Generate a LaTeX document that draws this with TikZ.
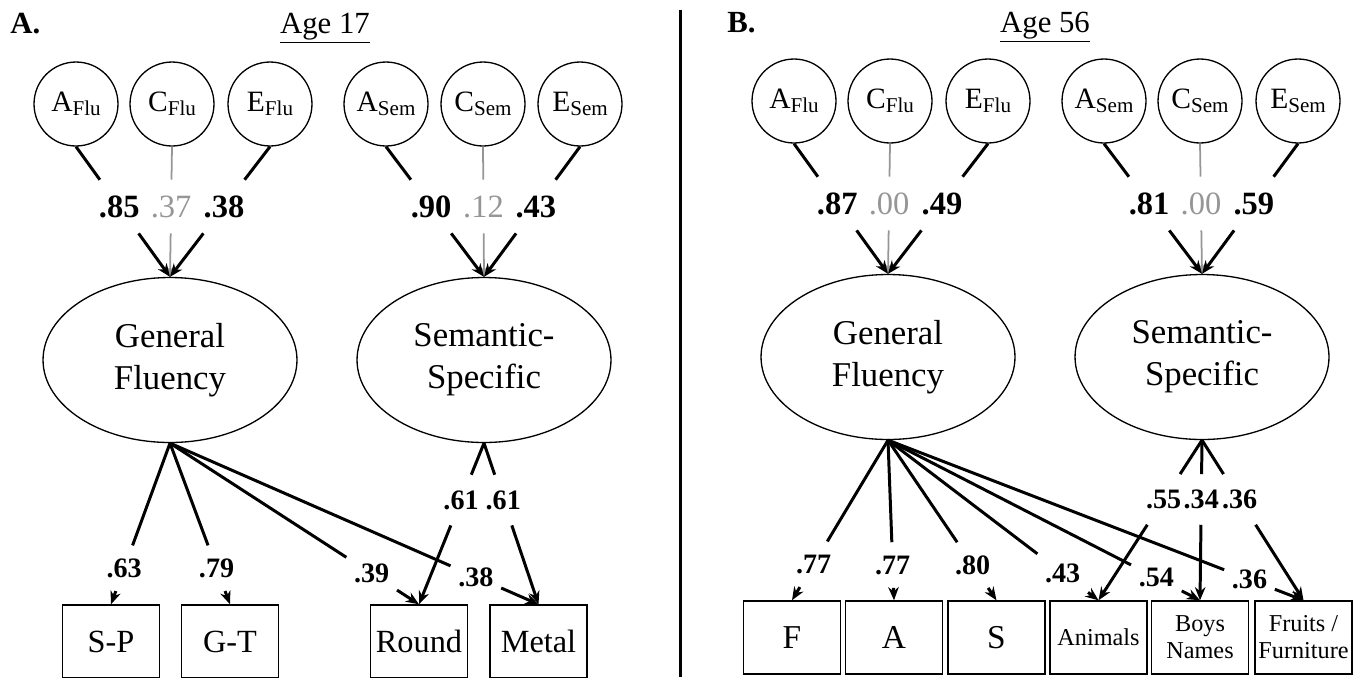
\documentclass[tikz,border=0pt]{standalone}
\usepackage{fontspec}
\setmainfont{Liberation Serif}
\usepackage{tikz}
\usetikzlibrary{arrows.meta,positioning,calc,shapes.geometric}
\definecolor{nilgray}{RGB}{150,150,150}
\newcommand{\sbs}[1]{\raisebox{-2.3pt}{\fontsize{12}{13}\selectfont #1}}

\begin{document}
\begin{tikzpicture}[x=.02cm,y=-.02cm,
  title/.style={inner sep=0pt,font=\fontsize{17.5}{20}\selectfont},
  ace/.style={circle,draw,line width=.75pt,minimum size=1.68cm,inner sep=0pt,font=\fontsize{16.8}{19}\selectfont},
  lat/.style={ellipse,draw,line width=.75pt,minimum width=5.08cm,minimum height=3.3cm,inner sep=0pt,align=center,font=\fontsize{19.8}{23.8}\selectfont},
  obs/.style={draw,line width=.8pt,minimum width=1.94cm,minimum height=1.46cm,inner sep=0pt,align=center,font=\fontsize{18.4}{21}\selectfont},
  obsbig/.style={obs,font=\fontsize{19}{22}\selectfont},
  obssmall/.style={obs,font=\fontsize{13.8}{15.3}\selectfont},
  coef/.style={inner sep=0pt,minimum width=1cm,minimum height=.9cm,font=\fontsize{16}{18}\selectfont\bfseries},
  coefsem/.style={coef,minimum height=1cm},
  coeftop/.style={coef,minimum height=1.06cm,font=\fontsize{18.5}{20}\selectfont\bfseries},
  coefnil/.style={coeftop,font=\fontsize{18.5}{20}\selectfont,text=nilgray},
  path/.style={line width=1.7pt},
  load/.style={path,-{Stealth[length=7.5pt,width=6pt]}},
  nil/.style={line width=1pt,draw=nilgray},
  nilload/.style={nil,-{Stealth[length=6pt,width=5pt]}}]

\path[use as bounding box] (0,0) rectangle (1361,677);
\draw[line width=1.7pt] (680,10) -- (680,677);

% titles
\node[title,anchor=base west] (tagA) at (10,33) {\textbf{A.}};
\node[title,anchor=base] (ageA) at (325,33) {\underline{Age 17}};
\node[title,anchor=base west] (tagB) at (727,32) {\textbf{B.}};
\node[title,anchor=base] (ageB) at (1045,32) {\underline{Age 56}};

% A: age 17
\foreach \lt/\sb/\xx in {A/Flu/76,C/Flu/172,E/Flu/270,A/Sem/386,C/Sem/483,E/Sem/580}
  \node[ace] (\lt\sb A) at (\xx,104) {\lt\sbs{\sb}};
\node[lat] (genA) at (170,360) {General\\Fluency};
\node[lat] (semA) at (484,360) {Semantic-\\Specific};
\node[obs] (spA) at (111,641.5) {S-P};
\node[obs] (gtA) at (230,641.5) {G-T};
\node[obs] (roundA) at (419,641.5) {Round};
\node[obs] (metalA) at (538.5,641.5) {Metal};

\node[coeftop] (wAFluA) at ($(AFluA.south)!.46!(genA.north)$) {.85};
\node[coefnil] (wCFluA) at ($(CFluA.south)!.46!(genA.north)$) {.37};
\node[coeftop] (wEFluA) at ($(EFluA.south)!.46!(genA.north)$) {.38};
\node[coeftop] (wASemA) at ($(ASemA.south)!.46!(semA.north)$) {.90};
\node[coefnil] (wCSemA) at ($(CSemA.south)!.46!(semA.north)$) {.12};
\node[coeftop] (wESemA) at ($(ESemA.south)!.46!(semA.north)$) {.43};

\draw[nil] (CFluA.south) -- (wCFluA);
\draw[nilload] (wCFluA) -- (genA.north);
\draw[nil] (CSemA.south) -- (wCSemA);
\draw[nilload] (wCSemA) -- (semA.north);
\draw[path] (AFluA.south) -- (wAFluA);
\draw[load] (wAFluA) -- (genA.north);
\draw[path] (EFluA.south) -- (wEFluA);
\draw[load] (wEFluA) -- (genA.north);
\draw[path] (ASemA.south) -- (wASemA);
\draw[load] (wASemA) -- (semA.north);
\draw[path] (ESemA.south) -- (wESemA);
\draw[load] (wESemA) -- (semA.north);

\node[coef] (wSP) at ($(genA.south)!.776!(spA.north)$) {.63};
\node[coef] (wGT) at ($(genA.south)!.776!(gtA.north)$) {.79};
\node[coef] (wRoundG) at ($(genA.south)!.81!(roundA.north)$) {.39};
\node[coef] (wMetalG) at ($(genA.south)!.83!(metalA.north)$) {.38};
\node[coefsem] (wRoundS) at ($(semA.south)!.353!(roundA.north)$) {.61};
\node[coefsem] (wMetalS) at ($(semA.south)!.353!(metalA.north)$) {.61};

\foreach \cf/\obj in {wSP/spA,wGT/gtA,wRoundG/roundA,wMetalG/metalA}{
  \draw[path] (genA.south) -- (\cf);
  \draw[load] (\cf) -- (\obj.north);
}
\foreach \cf/\obj in {wRoundS/roundA,wMetalS/metalA}{
  \draw[path] (semA.south) -- (\cf);
  \draw[load] (\cf) -- (\obj.north);
}

% B: age 56
\foreach \lt/\sb/\xx in {A/Flu/794,C/Flu/890,E/Flu/988,A/Sem/1104,C/Sem/1200,E/Sem/1298}
  \node[ace] (\lt\sb B) at (\xx,101) {\lt\sbs{\sb}};
\node[lat] (genB) at (888,357) {General\\Fluency};
\node[lat] (semB) at (1202,357) {Semantic-\\Specific};
\node[obsbig] (fB) at (792,637.5) {F};
\node[obsbig] (aB) at (894,637.5) {A};
\node[obsbig] (sB) at (996.5,637.5) {S};
\node[obssmall] (animB) at (1098.5,637.5) {Animals};
\node[obssmall] (boysB) at (1200,637.5) {Boys\\Names};
\node[obssmall] (fruitB) at (1303.5,637.5) {Fruits /\\Furniture};

\node[coeftop] (wAFluB) at ($(AFluB.south)!.46!(genB.north)$) {.87};
\node[coefnil] (wCFluB) at ($(CFluB.south)!.46!(genB.north)$) {.00};
\node[coeftop] (wEFluB) at ($(EFluB.south)!.46!(genB.north)$) {.49};
\node[coeftop] (wASemB) at ($(ASemB.south)!.46!(semB.north)$) {.81};
\node[coefnil] (wCSemB) at ($(CSemB.south)!.46!(semB.north)$) {.00};
\node[coeftop] (wESemB) at ($(ESemB.south)!.46!(semB.north)$) {.59};

\draw[nil] (CFluB.south) -- (wCFluB);
\draw[nilload] (wCFluB) -- (genB.north);
\draw[nil] (CSemB.south) -- (wCSemB);
\draw[nilload] (wCSemB) -- (semB.north);
\draw[path] (AFluB.south) -- (wAFluB);
\draw[load] (wAFluB) -- (genB.north);
\draw[path] (EFluB.south) -- (wEFluB);
\draw[load] (wEFluB) -- (genB.north);
\draw[path] (ASemB.south) -- (wASemB);
\draw[load] (wASemB) -- (semB.north);
\draw[path] (ESemB.south) -- (wESemB);
\draw[load] (wESemB) -- (semB.north);

\node[coef] (wF) at ($(genB.south)!.775!(fB.north)$) {.77};
\node[coef] (wA) at ($(genB.south)!.78!(aB.north)$) {.77};
\node[coef] (wS) at ($(genB.south)!.78!(sB.north)$) {.80};
\node[coef] (wAnimG) at ($(genB.south)!.83!(animB.north)$) {.43};
\node[coef] (wBoysG) at ($(genB.south)!.86!(boysB.north)$) {.54};
\node[coef] (wFruitG) at ($(genB.south)!.87!(fruitB.north)$) {.36};
\node[coefsem] (wAnimS) at ($(semB.south)!.37!(animB.north)$) {.55};
\node[coefsem] (wBoysS) at ($(semB.south)!.37!(boysB.north)$) {.34};
\node[coefsem] (wFruitS) at ($(semB.south)!.37!(fruitB.north)$) {.36};

\foreach \cf/\obj in {wF/fB,wA/aB,wS/sB,wAnimG/animB,wBoysG/boysB,wFruitG/fruitB}{
  \draw[path] (genB.south) -- (\cf);
  \draw[load] (\cf) -- (\obj.north);
}
\foreach \cf/\obj in {wAnimS/animB,wBoysS/boysB,wFruitS/fruitB}{
  \draw[path] (semB.south) -- (\cf);
  \draw[load] (\cf) -- (\obj.north);
}

\end{tikzpicture}
\end{document}
